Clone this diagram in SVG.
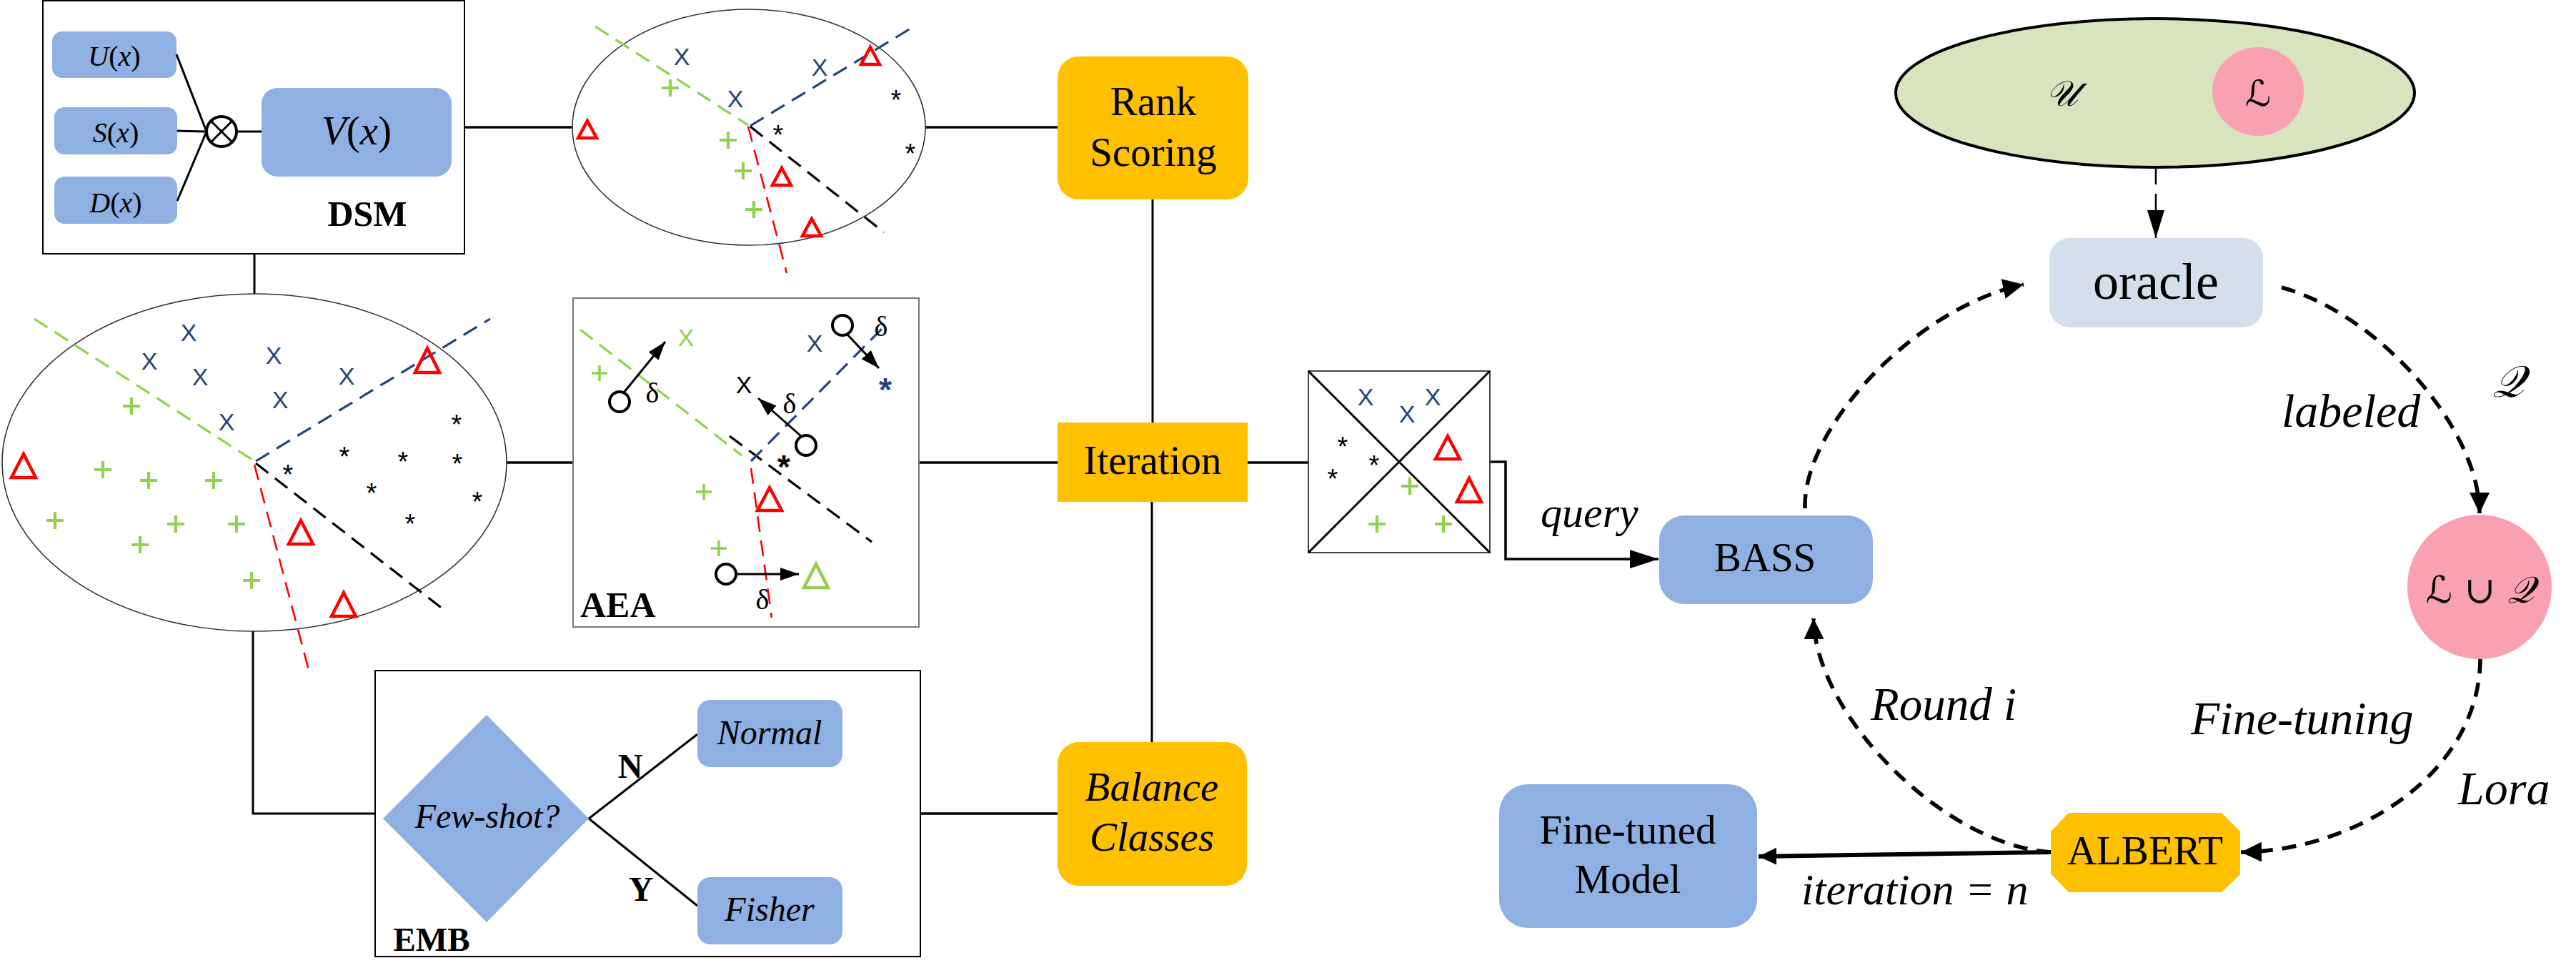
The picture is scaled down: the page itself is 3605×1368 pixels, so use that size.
<svg xmlns="http://www.w3.org/2000/svg" width="3605" height="1368" viewBox="0 0 3605 1368">
<style>
text{font-family:"Liberation Serif","Times New Roman",serif;fill:#000}
.it{font-style:italic}
.bd{font-weight:bold}
.blue{fill:#8EB0E2}
.orange{fill:#FFC000}
.frame{fill:#fff;stroke:#000;stroke-width:2}
.ln{stroke:#000;stroke-width:3.5;fill:none}
.thin{stroke:#000;stroke-width:3;fill:none}
.ell{fill:#fff;stroke:#333;stroke-width:1.6}
.dg{stroke:#92D050;stroke-width:3.2;stroke-dasharray:22 12;fill:none}
.db{stroke:#264478;stroke-width:3.2;stroke-dasharray:22 12;fill:none}
.dr{stroke:#FF0000;stroke-width:2.6;stroke-dasharray:22 12;fill:none}
.dk{stroke:#000;stroke-width:3.2;stroke-dasharray:22 12;fill:none}
.xm{font-family:"Liberation Sans",Arial,sans-serif;font-size:34px;fill:#264478;text-anchor:middle}
.st{font-family:"Liberation Sans",Arial,sans-serif;font-size:38px;fill:#000;text-anchor:middle}
.pl{stroke:#92D050;stroke-width:4.2;fill:none}
.tri{fill:none;stroke:#FF0000;stroke-width:4.5;stroke-linejoin:miter}
.cir{fill:none;stroke:#000;stroke-width:4}
.loop{stroke:#000;stroke-width:5.5;stroke-dasharray:20 13;fill:none}
.mid{text-anchor:middle}
.scr{font-family:"DejaVu Serif","DejaVu Sans","Noto Sans",serif;font-style:italic}
</style>
<defs>
<marker id="ah" markerUnits="userSpaceOnUse" markerWidth="32" markerHeight="30" refX="29" refY="14" orient="auto"><path d="M0,0 L29,14 L0,28 z" fill="#000"/></marker>
<marker id="ahThin" markerUnits="userSpaceOnUse" markerWidth="42" markerHeight="26" refX="39" refY="12" orient="auto"><path d="M0,0 L39,12 L0,24 z" fill="#000"/></marker>
<marker id="ahQ" markerUnits="userSpaceOnUse" markerWidth="42" markerHeight="28" refX="40" refY="13" orient="auto"><path d="M0,0 L40,13 L0,26 z" fill="#000"/></marker>
<marker id="ahF" markerUnits="userSpaceOnUse" markerWidth="28" markerHeight="26" refX="25" refY="12" orient="auto"><path d="M0,0 L25,12 L0,24 z" fill="#000"/></marker>
<marker id="ahS" markerUnits="userSpaceOnUse" markerWidth="28" markerHeight="20" refX="26" refY="9" orient="auto"><path d="M0,0 L26,9 L0,18 z" fill="#000"/></marker>
</defs>
<rect width="3605" height="1368" fill="#fff"/>

<g id="connectors">
<line class="ln" x1="650" y1="178" x2="801" y2="178"/>
<line class="thin" x1="356" y1="355" x2="356" y2="411"/>
<line class="ln" x1="709" y1="647" x2="802" y2="647"/>
<line class="ln" x1="1286" y1="647" x2="1480" y2="647"/>
<line class="ln" x1="1295" y1="178" x2="1480" y2="178"/>
<line class="thin" x1="1613" y1="279" x2="1613" y2="591"/>
<line class="thin" x1="1612" y1="702" x2="1612" y2="1038"/>
<line class="ln" x1="1746" y1="647" x2="1831" y2="647"/>
<polyline class="thin" points="354,883 354,1138 525,1138"/>
<line class="ln" x1="1288" y1="1138" x2="1480" y2="1138"/>
<polyline class="ln" points="2085,646 2107,646 2107,782 2321,782" marker-end="url(#ahQ)"/>
<line stroke="#000" stroke-width="2.5" stroke-dasharray="24 13 200" x1="3017" y1="234" x2="3017" y2="333" marker-end="url(#ahThin)"/>
<path class="loop" d="M2526,711 C2522,600 2680,430 2832,398" marker-end="url(#ah)"/>
<path class="loop" d="M3193,402 C3330,440 3470,600 3470,718" marker-end="url(#ah)"/>
<path class="loop" d="M3471,922 C3470,1080 3300,1190 3136,1192" marker-end="url(#ah)"/>
<path class="loop" d="M2870,1192 C2720,1182 2540,1000 2538,865" marker-end="url(#ah)"/>
<line stroke="#000" stroke-width="6" x1="2870" y1="1192" x2="2461" y2="1198" marker-end="url(#ahF)"/>
</g>

<g id="dsm">
<rect class="frame" x="60" y="1" width="590" height="354"/>
<rect class="blue" x="73" y="44" width="174" height="65" rx="14"/>
<rect class="blue" x="76" y="150" width="172" height="66" rx="14"/>
<rect class="blue" x="76" y="247" width="172" height="66" rx="14"/>
<text x="160" y="92" font-size="40" class="mid"><tspan class="it">U</tspan>(<tspan class="it">x</tspan>)</text>
<text x="162" y="199" font-size="40" class="mid"><tspan class="it">S</tspan>(<tspan class="it">x</tspan>)</text>
<text x="162" y="297" font-size="40" class="mid"><tspan class="it">D</tspan>(<tspan class="it">x</tspan>)</text>
<line class="thin" x1="247" y1="76" x2="289" y2="184"/>
<line class="thin" x1="248" y1="183" x2="289" y2="184"/>
<line class="thin" x1="248" y1="281" x2="289" y2="184"/>
<line class="thin" x1="331" y1="184" x2="366" y2="184"/>
<circle class="cir" cx="310" cy="184" r="21"/>
<line class="thin" x1="295" y1="169" x2="325" y2="199"/>
<line class="thin" x1="325" y1="169" x2="295" y2="199"/>
<rect class="blue" x="366" y="123" width="266" height="124" rx="22"/>
<text x="499" y="202" font-size="57" class="mid"><tspan class="it">V</tspan>(<tspan class="it">x</tspan>)</text>
<text x="514" y="316" font-size="50" class="mid bd">DSM</text>
</g>

<g id="plot-top">
<ellipse class="ell" cx="1048" cy="178" rx="247" ry="165"/>
<line class="dg" x1="833" y1="37" x2="1047" y2="175"/>
<line class="db" x1="1050" y1="176" x2="1279" y2="37"/>
<line class="dr" x1="1047" y1="177" x2="1101" y2="382"/>
<line class="dk" x1="1050" y1="177" x2="1237" y2="325"/>
<text class="xm" x="954" y="91">X</text>
<text class="xm" x="1147" y="106">X</text>
<text class="xm" x="1029" y="150">X</text>
<path class="pl" d="M926,123h24M938,111v24M1007,196h24M1019,184v24M1028,239h24M1040,227v24M1043,293h24M1055,281v24"/>
<path class="tri" d="M1218,66L1231,90H1205Z M822,169L835,193H809Z M1094,235L1107,259H1081Z M1136,306L1149,330H1123Z"/>
<text class="st" x="1254" y="153">*</text>
<text class="st" x="1089" y="202">*</text>
<text class="st" x="1274" y="228">*</text>
</g>

<g id="plot-left">
<ellipse class="ell" cx="356" cy="647" rx="353" ry="236"/>
<line class="dg" x1="48" y1="446" x2="356" y2="645"/>
<line class="db" x1="358" y1="645" x2="686" y2="446"/>
<line class="dr" x1="356" y1="650" x2="432" y2="937"/>
<line class="dk" x1="358" y1="648" x2="625" y2="856"/>
<text class="xm" x="264" y="477">X</text>
<text class="xm" x="209" y="517">X</text>
<text class="xm" x="280" y="539">X</text>
<text class="xm" x="383" y="509">X</text>
<text class="xm" x="485" y="538">X</text>
<text class="xm" x="392" y="571">X</text>
<text class="xm" x="317" y="602">X</text>
<path class="pl" d="M172,568h24M184,556v24M132,657h24M144,645v24M196,672h24M208,660v24M287,672h24M299,660v24M65,728h24M77,716v24M234,733h24M246,721v24M319,733h24M331,721v24M184,762h24M196,750v24M340,812h24M352,800v24"/>
<path class="tri" d="M598,487L615,521H581Z M33,635L50,668H16Z M421,728L438,761H404Z M481,829L498,862H464Z"/>
<text class="st" x="639" y="607">*</text>
<text class="st" x="482" y="652">*</text>
<text class="st" x="564" y="659">*</text>
<text class="st" x="640" y="662">*</text>
<text class="st" x="403" y="677">*</text>
<text class="st" x="520" y="703">*</text>
<text class="st" x="668" y="715">*</text>
<text class="st" x="574" y="746">*</text>
</g>

<g id="aea">
<rect x="802" y="417" width="484" height="460" fill="#fff" stroke="#777" stroke-width="2"/>
<line class="dg" x1="812" y1="461" x2="1038" y2="637"/>
<line class="dk" x1="1021" y1="610" x2="1220" y2="758"/>
<line class="db" x1="1051" y1="645" x2="1239" y2="455"/>
<line class="dr" x1="1051" y1="655" x2="1080" y2="864"/>
<text class="xm" x="960" y="484" style="fill:#92D050">X</text>
<text class="xm" x="1140" y="492">X</text>
<text class="xm" x="1041" y="550" style="fill:#000">X</text>
<path class="pl" style="stroke-width:3.5" d="M828,522h22M839,511v22M974,688h22M985,677v22M995,767h22M1006,756v22"/>
<text class="st bd" x="1239" y="561" style="fill:#264478;font-size:46px">*</text>
<text class="st bd" x="1097" y="669" style="font-size:46px">*</text>
<path class="tri" d="M1077,682L1094,714H1060Z"/>
<path class="tri" style="stroke:#92D050" d="M1142,789L1159,822H1125Z"/>
<circle class="cir" cx="867" cy="562" r="14"/>
<circle class="cir" cx="1179" cy="455" r="14"/>
<circle class="cir" cx="1128" cy="623" r="14"/>
<circle class="cir" cx="1016" cy="803" r="14"/>
<line class="thin" x1="873" y1="549" x2="931" y2="478" marker-end="url(#ahS)"/>
<line class="thin" x1="1186" y1="468" x2="1230" y2="515" marker-end="url(#ahS)"/>
<line class="thin" x1="1121" y1="610" x2="1061" y2="557" marker-end="url(#ahS)"/>
<line class="thin" x1="1030" y1="803" x2="1118" y2="803" marker-end="url(#ahS)"/>
<text x="913" y="563" font-size="40" class="mid">δ</text>
<text x="1233" y="470" font-size="40" class="mid">δ</text>
<text x="1105" y="578" font-size="40" class="mid">δ</text>
<text x="1067" y="852" font-size="40" class="mid">δ</text>
<text x="812" y="863" font-size="50" class="bd">AEA</text>
</g>

<g id="emb">
<rect class="frame" x="525" y="938" width="763" height="400"/>
<path class="blue" d="M536,1145L681,1000L824,1145L681,1290Z"/>
<text x="682" y="1158" font-size="48" class="it mid">Few-shot?</text>
<line class="thin" x1="824" y1="1145" x2="976" y2="1027"/>
<line class="thin" x1="824" y1="1145" x2="976" y2="1267"/>
<text x="882" y="1088" font-size="48" class="bd mid">N</text>
<text x="897" y="1260" font-size="48" class="bd mid">Y</text>
<rect class="blue" x="976" y="979" width="203" height="94" rx="18"/>
<rect class="blue" x="976" y="1227" width="203" height="94" rx="18"/>
<text x="1077" y="1041" font-size="48" class="it mid">Normal</text>
<text x="1077" y="1288" font-size="48" class="it mid">Fisher</text>
<text x="604" y="1330" font-size="47" class="bd mid">EMB</text>
</g>

<g id="rank-scoring">
<rect class="orange" x="1480" y="79" width="267" height="200" rx="30"/>
<text x="1614" y="161" font-size="57" class="mid">Rank</text>
<text x="1614" y="232" font-size="57" class="mid">Scoring</text>
</g>
<g id="iteration">
<rect class="orange" x="1480" y="591" width="266" height="111"/>
<text x="1613" y="663" font-size="57" class="mid">Iteration</text>
</g>
<g id="balance-classes">
<rect class="orange" x="1480" y="1038" width="265" height="201" rx="30"/>
<text x="1612" y="1120" font-size="57" class="it mid">Balance</text>
<text x="1612" y="1190" font-size="57" class="it mid">Classes</text>
</g>

<g id="quad">
<rect x="1831" y="519" width="254" height="254" fill="#fff" stroke="#444" stroke-width="2"/>
<line class="thin" x1="1831" y1="519" x2="2085" y2="773"/>
<line class="thin" x1="2085" y1="519" x2="1831" y2="773"/>
<text class="xm" x="1911" y="567">X</text>
<text class="xm" x="2005" y="567">X</text>
<text class="xm" x="1969" y="591">X</text>
<text class="st" x="1879" y="638">*</text>
<text class="st" x="1923" y="664">*</text>
<text class="st" x="1865" y="683">*</text>
<path class="tri" d="M2026,610L2043,642H2009Z M2056,669L2073,702H2039Z"/>
<path class="pl" d="M1961,680h24M1973,668v24M1915,733h24M1927,721v24M2008,733h24M2020,721v24"/>
</g>

<g id="bass">
<rect class="blue" x="2322" y="721" width="299" height="124" rx="35"/>
<text x="2470" y="799" font-size="57" class="mid">BASS</text>
</g>
<text x="2156" y="737" font-size="60" class="it">query</text>

<g id="pool">
<ellipse cx="3016" cy="130" rx="363" ry="104" fill="#D7E4BD" stroke="#000" stroke-width="4"/>
<ellipse cx="3160" cy="128" rx="64" ry="62" fill="#F9A0B1"/>
<text x="2885" y="148" font-size="50" class="scr mid">𝒰</text>
<text x="3160" y="148" font-size="50" class="scr mid">ℒ</text>
</g>

<g id="oracle">
<rect x="2868" y="333" width="299" height="125" rx="28" fill="#D5DFEB"/>
<text x="3017" y="418" font-size="72" class="mid">oracle</text>
</g>
<text x="3193" y="597" font-size="66" class="it">labeled</text>
<text x="3510" y="555" font-size="62" class="scr mid">𝒬</text>

<g id="labeled-set">
<circle cx="3470" cy="821" r="101" fill="#F9A0B1"/>
<text x="3470" y="843" font-size="52" class="scr mid">ℒ ∪ 𝒬</text>
</g>

<g id="albert">
<path class="orange" d="M2895,1137H3109L3135,1163V1223L3109,1248H2895L2870,1222V1163Z"/>
<text x="3002" y="1209" font-size="57" class="mid">ALBERT</text>
</g>
<text x="3066" y="1027" font-size="66" class="it">Fine-tuning</text>
<text x="3440" y="1125" font-size="66" class="it">Lora</text>
<text x="2618" y="1007" font-size="65" class="it">Round i</text>

<g id="fine-tuned-model">
<rect class="blue" x="2098" y="1097" width="361" height="201" rx="40"/>
<text x="2278" y="1180" font-size="57" class="mid">Fine-tuned</text>
<text x="2278" y="1249" font-size="57" class="mid">Model</text>
</g>
<text x="2521" y="1265" font-size="62" class="it">iteration = n</text>
</svg>
